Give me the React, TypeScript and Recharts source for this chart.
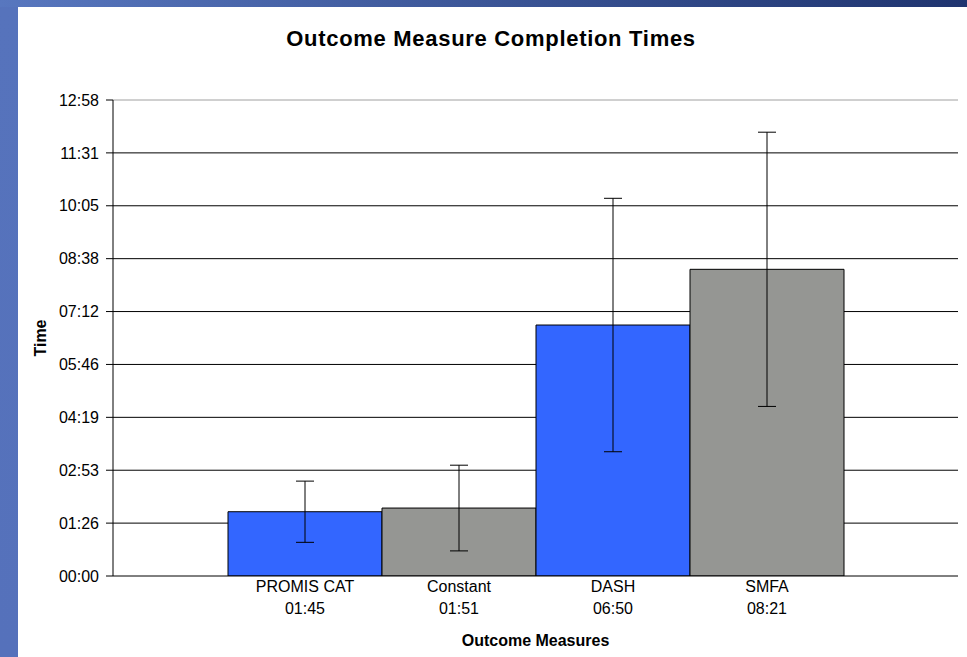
import React from "react";
import {
  BarChart,
  Bar,
  XAxis,
  YAxis,
  CartesianGrid,
  ErrorBar,
  LabelList,
  ReferenceLine,
} from "recharts";

// mean completion time and error (seconds) per outcome measure
const measures = ["PROMIS CAT", "Constant", "DASH", "SMFA"];
const meanSeconds = [105, 111, 410, 501];
const meanLabels = ["01:45", "01:51", "06:50", "08:21"];
const errorSeconds = [50, 70, 207, 224];
const barColors = ["#3366FF", "#959693", "#3366FF", "#959693"];

// Excel day-fraction ticks (0.001 day = 86.4 s)
const yTicks = [0, 86.4, 172.8, 259.2, 345.6, 432, 518.4, 604.8, 691.2, 777.6];
const yTickLabels = ["00:00", "01:26", "02:53", "04:19", "05:46", "07:12", "08:38", "10:05", "11:31", "12:58"];

const row: Record<string, string | number> = { group: "all" };
measures.forEach((m, i) => {
  row[`v${i}`] = meanSeconds[i];
  row[`e${i}`] = errorSeconds[i];
});
const data = [row];

const FONT = '"Liberation Sans", Arial, sans-serif';

const barLabel = (i: number) => (props: any) => {
  const { x, y, width, height } = props;
  const cx = Number(x) + Number(width) / 2;
  const base = Number(y) + Number(height);
  return (
    <text x={cx} textAnchor="middle" fontSize={16} fontFamily={FONT} fill="#000">
      <tspan x={cx} y={base + 16}>{measures[i]}</tspan>
      <tspan x={cx} y={base + 38}>{meanLabels[i]}</tspan>
    </text>
  );
};

export default function App() {
  return (
    <div style={{ position: "absolute", left: 0, top: 0, width: 967, height: 657, background: "#fff", fontFamily: FONT }}>
      <div style={{ position: "absolute", left: 0, top: 0, width: 18, height: 657, background: "linear-gradient(#5673BC, #5571BB)" }} />
      <div style={{ position: "absolute", left: 0, top: 0, width: 967, height: 7, background: "linear-gradient(to right, #5877BF, #1F346F)" }} />
      <div style={{ position: "absolute", left: 0, top: 26, width: 982, textAlign: "center", fontSize: 22, letterSpacing: 0.7, fontWeight: "bold", color: "#000" }}>
        Outcome Measure Completion Times
      </div>
      <div style={{ position: "absolute", left: 0, top: 0 }}>
        <BarChart
          width={967}
          height={657}
          data={data}
          margin={{ top: 100, right: 9, bottom: 0, left: 0 }}
          barGap={0}
          barCategoryGap={115}
        >
          <CartesianGrid xAxisId="frame" vertical={false} stroke="#000" horizontalValues={yTicks.slice(1, -1)} />
          <XAxis xAxisId="cat" dataKey="group" hide height={0} />
          {/* single-category frame: ticks at both ends of the axis, like Excel */}
          <XAxis
            xAxisId="frame"
            type="number"
            dataKey={() => 0.5}
            domain={[0, 1]}
            ticks={[0, 1]}
            allowDataOverflow
            tick={false}
            tickSize={6}
            height={81}
            axisLine={{ stroke: "#000" }}
            tickLine={{ stroke: "#000" }}
            label={{
              content: (p: any) => {
                const vb = p.viewBox;
                return (
                  <text x={vb.x + vb.width / 2} y={vb.y + 70} textAnchor="middle" fontSize={16} fontWeight="bold" fontFamily={FONT} fill="#000">
                    Outcome Measures
                  </text>
                );
              },
            }}
          />
          <YAxis
            width={113}
            domain={[0, 777.6]}
            ticks={yTicks}
            allowDataOverflow
            tickFormatter={(v: number) => yTickLabels[yTicks.indexOf(v)] ?? ""}
            tick={{ fontSize: 16, fill: "#000", fontFamily: FONT }}
            tickSize={7}
            tickMargin={7}
            axisLine={{ stroke: "#000" }}
            tickLine={{ stroke: "#000" }}
            label={{
              content: (p: any) => {
                const vb = p.viewBox;
                const lx = vb.x + 40;
                const ly = vb.y + vb.height / 2;
                return (
                  <text x={lx} y={ly} transform={`rotate(-90, ${lx}, ${ly})`} textAnchor="middle" dominantBaseline="central" fontSize={16} fontWeight="bold" fontFamily={FONT} fill="#000">
                    Time
                  </text>
                );
              },
            }}
          />
          <YAxis
            yAxisId="border"
            orientation="right"
            width={0}
            domain={[0, 777.6]}
            allowDataOverflow
            tick={false}
            tickLine={false}
            axisLine={{ stroke: "#a0a0a0" }}
          />
          <ReferenceLine xAxisId="frame" y={777.6} stroke="#a0a0a0" />
          {measures.map((m, i) => (
            <Bar key={m} xAxisId="cat" dataKey={`v${i}`} name={m} fill={barColors[i]} stroke="#000" strokeWidth={1} isAnimationActive={false}>
              <ErrorBar dataKey={`e${i}`} width={9} stroke="#000" strokeWidth={1} direction="y" />
              <LabelList dataKey={`v${i}`} content={barLabel(i)} />
            </Bar>
          ))}
        </BarChart>
      </div>
    </div>
  );
}
